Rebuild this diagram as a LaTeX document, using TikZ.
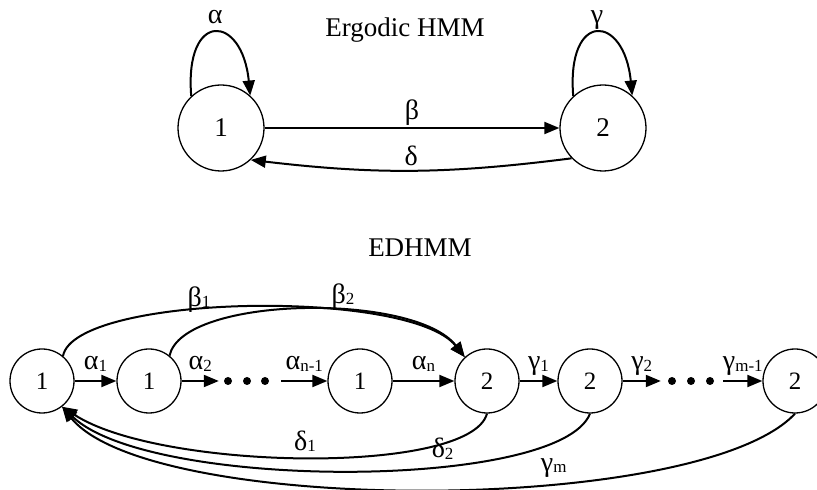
\documentclass[tikz,border=0pt]{standalone}
\usepackage{fontspec}
\setmainfont{Liberation Serif}
\usetikzlibrary{arrows.meta}

\newcommand{\sidx}[1]{\raisebox{-1.5pt}{\fontsize{17}{17}\selectfont #1}}

\begin{document}
\begin{tikzpicture}[x=1pt, y=1pt,
		bigstate/.style={draw, circle, line width=1.3pt, minimum size=86pt, inner sep=0pt, font=\fontsize{27}{27}\selectfont},
		state/.style={draw, circle, line width=1.3pt, minimum size=64pt, inner sep=0pt, font=\fontsize{25}{25}\selectfont},
		dotsbox/.style={minimum width=62pt, minimum height=10pt, inner sep=0pt},
		trans/.style={line width=2pt, -{Triangle[length=15pt, width=12pt]}},
		lbl/.style={font=\fontsize{28}{28}\selectfont, inner sep=2pt},
		arrlbl/.style={lbl, anchor=base, inner sep=0pt, yshift=11pt},
		title/.style={anchor=base, font=\fontsize{27}{27}\selectfont}]
			\useasboundingbox (0, 0) rectangle (817, 490);

			% Ergodic HMM
			\draw (405, 453) 	node[title] 		(ergtitle) 	{Ergodic HMM};
			\draw (221, 362) 	node[bigstate] 		(s1) 		{1};
			\draw (603, 362) 	node[bigstate] 		(s2) 		{2};

			\draw[trans] (s1) -- node[lbl, above] {β} (s2);
			\draw[trans] (s2.-136) to[bend left=7] node[lbl, above=2pt] {δ} (s1.-47);
			\draw[trans] (s1.133) .. controls +(-7, 86) and +(-8, 82) .. node[lbl, anchor=base, inner sep=0pt, yshift=9pt] {α} (s1.48);
			\draw[trans] (s2.133) .. controls +(-7, 86) and +(-8, 82) .. node[lbl, anchor=base, inner sep=0pt, yshift=9pt] {γ} (s2.48);

			% EDHMM
			\draw (420, 233) 	node[title] 		(edtitle) 	{EDHMM};
			\draw (42, 109) 	node[state] 		(a1) 		{1};
			\draw (149, 109) 	node[state] 		(a2) 		{1};
			\draw (250, 109) 	node[dotsbox] 		(dots1) 	{};
			\draw (360, 109) 	node[state] 		(a3) 		{1};
			\draw (487, 109) 	node[state] 		(b1) 		{2};
			\draw (590, 109) 	node[state] 		(b2) 		{2};
			\draw (692, 109) 	node[dotsbox] 		(dots2) 	{};
			\draw (795, 109) 	node[state] 		(b3) 		{2};

			\foreach \x in {228, 247, 265, 672, 691, 710}
				\fill (\x, 109) circle (4);

			\draw[trans] (a1) -- node[arrlbl] {α\sidx{1}} (a2);
			\draw[trans] (a2) -- node[arrlbl] {α\sidx{2}} (dots1);
			\draw[trans] (dots1) -- node[arrlbl] {α\sidx{n-1}} (a3);
			\draw[trans] (a3) -- node[arrlbl] {α\sidx{n}} (b1);
			\draw[trans] (b1) -- node[arrlbl] {γ\sidx{1}} (b2);
			\draw[trans] (b2) -- node[arrlbl] {γ\sidx{2}} (dots2);
			\draw[trans] (dots2) -- node[arrlbl] {γ\sidx{m-1}} (b3);

			\draw[trans] (a1.50) .. controls +(12, 62) and +(-55, 69) .. node[pos=.41, lbl, anchor=base, inner sep=0pt, yshift=3pt] {β\sidx{1}} (b1.133);
			\draw[trans] (a2.51) .. controls +(13, 60) and +(-50, 65) .. node[pos=.6, lbl, anchor=base, inner sep=0pt, yshift=8pt] {β\sidx{2}} (b1.133);
			\draw[trans] (b1.-90) .. controls +(-17, -62) and +(98, -64) .. node[pos=.5, lbl, anchor=base, inner sep=0pt, yshift=7pt] {δ\sidx{1}} (a1.-52);
			\draw[trans] (b2.-90) .. controls +(-30, -77) and +(88, -84) .. node[pos=.36, lbl, anchor=base, inner sep=0pt, yshift=9pt] {δ\sidx{2}} (a1.-52);
			\draw[trans] (b3.-90) .. controls +(-95, -102) and +(88, -109) .. node[pos=.365, lbl, anchor=base, inner sep=0pt, yshift=13pt] {γ\sidx{m}} (a1.-52);
		\end{tikzpicture}
\end{document}
